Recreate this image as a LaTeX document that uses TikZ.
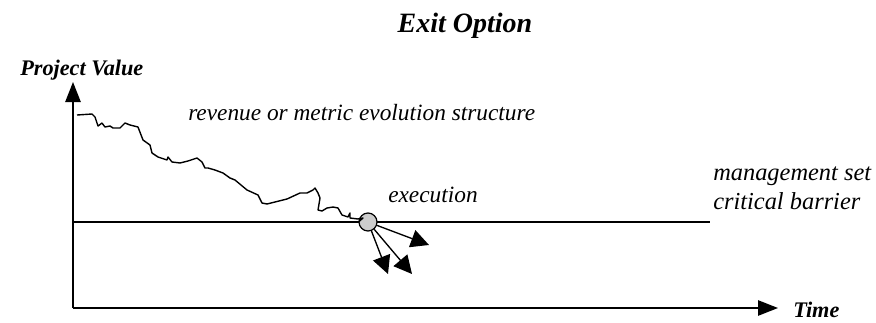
\documentclass[tikz,border=0pt]{standalone}
\usepackage{fontspec}
\setmainfont{Liberation Serif}
\usetikzlibrary{arrows.meta}

\begin{document}
\begin{tikzpicture}[
  x=0.75pt, y=-0.75pt,
  heading/.style={font=\fontsize{21}{24}\selectfont\bfseries\itshape, inner sep=0pt},
  axislabel/.style={font=\fontsize{16.7}{20}\selectfont\bfseries\itshape, inner sep=0pt},
  remark/.style={font=\fontsize{17.5}{21.75}\selectfont\itshape, inner sep=0pt, align=left},
  axis/.style={line width=1.2pt, -{Triangle[length=15pt, width=11.5pt]}},
  barrier/.style={line width=1.1pt},
  valuepath/.style={line width=1.05pt, line join=round},
  exitpoint/.style={circle, draw, line width=0.9pt, fill=black!20, minimum size=13.5pt, inner sep=0pt},
  exitarrow/.style={line width=1pt, -{Triangle[length=13.5pt, width=13.5pt]}}
]
\useasboundingbox (0,0) rectangle (876,322);

\node[heading, anchor=base] (title) at (465,32) {Exit Option};

% axes
\coordinate (origin) at (73,308);
\coordinate (ytop) at (73,82);
\coordinate (xend) at (778,308);
\draw[axis] (origin) -- (ytop);
\draw[axis] (origin) -- (xend);
\node[axislabel, anchor=base west] (yname) at (20,75) {Project Value};
\node[axislabel, anchor=base west] (xname) at (793,317) {Time};

% barrier
\coordinate (barstart) at (73,222);
\coordinate (barend) at (710,222);
\draw[barrier] (barstart) -- (barend);
\node[remark, font=\fontsize{18.3}{21.75}\selectfont\itshape, anchor=base west] (barlbl) at (713,209) {management set\\critical barrier};

% exit point
\node[exitpoint] (exec) at (368,222) {};
\node[remark, anchor=base west] (execlbl) at (388,202) {execution};

% value path
\draw[valuepath] (77,115) -- (92,114) -- (95,117) -- (98,126) -- (102,123) -- (105,127)
  -- (110,126) -- (113,128) -- (120,128) -- (125,123) -- (130,125) -- (138,127)
  -- (143,140) -- (150,145) -- (152,153) -- (158,157) -- (167,160) -- (168,157)
  -- (172,162) -- (180,163) -- (188,161) -- (197,158) -- (202,162) -- (205,168)
  -- (208,168) -- (215,170) -- (223,173) -- (230,178) -- (235,180) -- (247,190)
  -- (258,195) -- (262,203) -- (267,204) -- (287,199) -- (300,193) -- (307,193)
  -- (313,190) -- (315,188) -- (318,193) -- (320,198) -- (318,210) -- (322,211)
  -- (327,208) -- (333,207) -- (338,208) -- (342,215) -- (348,217) -- (350,213)
  -- (350,218) -- (358,219) -- (363,218) -- (exec.west);
\node[remark, anchor=base west] (pathlbl) at (188,120) {revenue or metric evolution structure};

% exit arrows
\coordinate (tipa) at (388,274);
\coordinate (tipb) at (412,274);
\coordinate (tipc) at (429,245);
\draw[exitarrow] (exec) -- (tipa);
\draw[exitarrow] (exec) -- (tipb);
\draw[exitarrow] (exec) -- (tipc);

\end{tikzpicture}
\end{document}
